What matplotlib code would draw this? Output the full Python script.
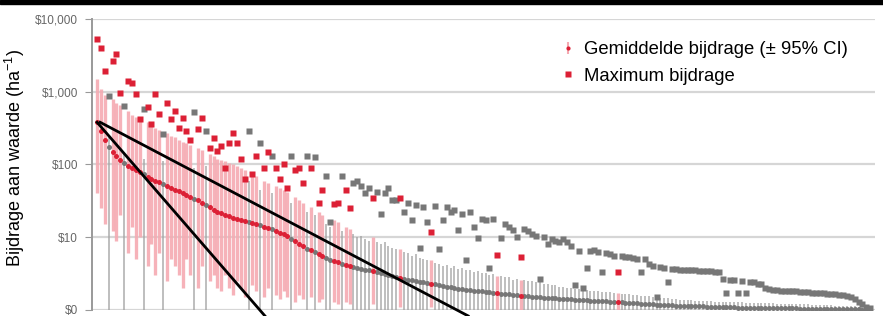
import matplotlib.pyplot as plt
from matplotlib.lines import Line2D
from matplotlib.ticker import FixedLocator, NullLocator

plt.rcParams["font.family"] = ["Liberation Sans", "DejaVu Sans"]
plt.rcParams["mathtext.default"] = "regular"

# species sorted by mean contribution ($ per ha)
mean_vals = [
    380, 290, 220, 175, 150, 130, 115, 104, 96, 89,
    83, 78, 73, 68, 64, 60, 57, 54, 51, 48,
    45, 43, 41, 38, 36, 34, 32, 30, 28, 26,
    24, 22.5, 21.5, 20.5, 19.5, 18.5, 18, 17, 16.5, 16,
    15.5, 15, 14.5, 14, 13.5, 13, 12, 11.5, 11, 10.5,
    9.5, 8.8, 8.2, 7.6, 7.0, 6.6, 6.2, 5.8, 5.5, 5.2,
    4.9, 4.7, 4.5, 4.3, 4.1, 4.0, 3.9, 3.8, 3.7, 3.6,
    3.5, 3.4, 3.3, 3.2, 3.1, 3.0, 2.9, 2.8, 2.75, 2.7,
    2.6, 2.55, 2.5, 2.45, 2.4, 2.35, 2.3, 2.25, 2.2, 2.15,
    2.1, 2.05, 2.0, 1.97, 1.94, 1.91, 1.88, 1.85, 1.82, 1.8,
    1.78, 1.75, 1.72, 1.7, 1.68, 1.66, 1.64, 1.62, 1.6, 1.58,
    1.56, 1.54, 1.52, 1.5, 1.49, 1.48, 1.46, 1.45, 1.44, 1.43,
    1.42, 1.41, 1.4, 1.39, 1.38, 1.37, 1.36, 1.35, 1.34, 1.33,
    1.32, 1.31, 1.3, 1.29, 1.28, 1.27, 1.26, 1.25, 1.24, 1.23,
    1.22, 1.21, 1.2, 1.19, 1.18, 1.17, 1.17, 1.16, 1.16, 1.15,
    1.15, 1.14, 1.14, 1.13, 1.13, 1.12, 1.12, 1.11, 1.11, 1.1,
    1.1, 1.1, 1.09, 1.09, 1.09, 1.08, 1.08, 1.08, 1.07, 1.07,
    1.07, 1.07, 1.06, 1.06, 1.06, 1.06, 1.05, 1.05, 1.05, 1.05,
    1.05, 1.04, 1.04, 1.04, 1.04, 1.04, 1.03, 1.03, 1.03, 1.03,
    1.03, 1.03, 1.02, 1.02, 1.02, 1.02, 1.02, 1.01, 1.01, 1.01,
]

upper_ci = [
    1500, 1100, 900, 250, 800, 700, 650, 150, 550, 480,
    450, 400, 120, 380, 340, 320, 300, 110, 270, 250,
    240, 220, 205, 195, 185, 90, 170, 160, 95, 140,
    130, 120, 115, 110, 105, 100, 95, 90, 85, 60,
    75, 70, 45, 60, 55, 40, 50, 48, 45, 42,
    30, 36, 33, 30, 22, 26, 20, 22, 20, 15,
    14, 17, 16, 12, 14, 13, 11, 10, 10.5, 9.5,
    9, 10, 8.5, 8, 8.6, 7.5, 7.2, 6.8, 7, 6.2,
    6, 5.6, 5.8, 5.2, 5.0, 4.8, 4.9, 4.4, 4.3, 4.0,
    4.2, 3.8, 4.0, 3.7, 3.8, 3.5, 3.6, 3.3, 3.4, 3.2,
    3.2, 3.0, 3.1, 2.9, 2.9, 2.8, 2.8, 2.6, 2.7, 2.6,
    2.6, 2.5, 2.5, 2.4, 2.4, 2.3, 2.3, 2.2, 2.2, 2.1,
    2.1, 2.0, 2.0, 1.95, 1.95, 1.9, 1.9, 1.85, 1.82, 1.8,
    1.78, 1.76, 1.74, 1.72, 1.7, 1.68, 1.66, 1.64, 1.62, 1.6,
    1.58, 1.56, 1.54, 1.52, 1.5, 1.48, 1.46, 1.44, 1.42, 1.4,
    1.39, 1.38, 1.37, 1.36, 1.35, 1.34, 1.33, 1.32, 1.31, 1.3,
    1.3, 1.29, 1.29, 1.28, 1.28, 1.27, 1.27, 1.26, 1.26, 1.25,
    1.25, 1.24, 1.24, 1.23, 1.23, 1.22, 1.22, 1.21, 1.21, 1.2,
    1.2, 1.2, 1.19, 1.19, 1.18, 1.18, 1.17, 1.17, 1.16, 1.16,
    1.15, 1.15, 1.14, 1.14, 1.13, 1.12, 1.11, 1.1, 1.08, 1.06,
]

lower_ci = [
    40, 25, 15, 0.1, 12, 9, 20, 0.1, 6, 14,
    5, 10, 0.1, 4, 8, 3, 6, 0.1, 2.5, 5,
    4, 3, 2, 5, 3, 0.1, 2, 4, 0.1, 2.5,
    3, 2, 1.8, 3, 2, 1.6, 2.5, 2, 1.5, 0.1,
    2.2, 1.8, 0.1, 1.5, 2, 0.1, 1.6, 1.4, 1.8, 1.5,
    0.1, 1.3, 1.6, 1.4, 0.1, 1.5, 0.1, 1.3, 1.4, 0.1,
    0.1, 1.3, 1.2, 0.1, 1.3, 1.2, 0.1, 0.1, 0.1, 0.1,
    0.1, 1.2, 0.1, 0.1, 0.1, 0.1, 0.1, 0.1, 1.1, 0.1,
    0.1, 0.1, 0.1, 0.1, 0.1, 0.1, 1.1, 0.1, 0.1, 0.1,
    0.1, 0.1, 0.1, 0.1, 0.1, 0.1, 0.1, 0.1, 0.1, 0.1,
    0.1, 0.1, 0.1, 0.5, 0.1, 0.1, 0.1, 0.1, 0.1, 0.5,
    0.1, 0.1, 0.1, 0.1, 0.1, 0.1, 0.1, 0.1, 0.1, 0.1,
    0.1, 0.1, 0.1, 0.1, 0.1, 0.1, 0.1, 0.1, 0.1, 0.1,
    0.1, 0.1, 0.1, 0.1, 0.5, 0.1, 0.1, 0.1, 0.1, 0.1,
    0.1, 0.1, 0.1, 0.1, 0.1, 0.1, 0.1, 0.1, 0.1, 0.1,
    0.1, 0.1, 0.1, 0.1, 0.1, 0.1, 0.1, 0.1, 0.1, 0.1,
    0.1, 0.1, 0.1, 0.1, 0.1, 0.1, 0.1, 0.1, 0.1, 0.1,
    0.1, 0.1, 0.1, 0.1, 0.1, 0.1, 0.1, 0.1, 0.1, 0.1,
    0.1, 0.1, 0.1, 0.1, 0.1, 0.1, 0.1, 0.1, 0.1, 0.1,
    0.1, 0.1, 0.1, 0.1, 0.1, 0.1, 0.1, 0.1, 0.1, 0.1,
]

max_vals = [
    5300, 4000, 1950, 880, 2650, 3300, 950, 640, 1420, 1330,
    940, 425, 580, 620, 365, 940, 500, 265, 700, 425,
    550, 320, 440, 290, 215, 520, 310, 440, 290, 170,
    230, 155, 180, 90, 200, 270, 200, 120, 64, 290,
    75, 130, 195, 90, 150, 130, 90, 64, 100, 47,
    130, 85, 90, 55, 130, 90, 125, 30, 44, 70,
    16, 29, 30, 70, 45, 25, 55, 60, 50, 40,
    48, 35, 42, 21, 40, 48, 33, 32, 35, 22,
    30, 17, 28, 7.1, 26, 16, 11.7, 27, 6.8, 17,
    26, 22, 24, 12.5, 21, 4.8, 22, 14, 9.7, 18,
    17, 3.8, 18, 5.7, 9.7, 15, 14, 12.5, 10, 5.3,
    13, 12, 11, 10.5, 2.7, 10, 8, 9.5, 9, 8.5,
    9.5, 8.5, 7.5, 2.2, 6.5, 2.0, 3.8, 6.5, 6.6, 6.2,
    3.3, 6.0, 5.8, 5.6, 3.3, 5.5, 5.4, 5.3, 5.2, 5.0,
    3.3, 5.0, 4.3, 4.0, 1.5, 3.9, 3.8, 2.4, 3.7, 3.7,
    3.6, 3.6, 3.5, 3.5, 3.5, 3.4, 3.4, 3.4, 3.4, 3.3,
    3.3, 2.7, 1.7, 2.6, 2.6, 1.7, 2.5, 1.7, 2.4, 2.4,
    2.3, 2.3, 2.0, 1.95, 1.9, 1.9, 1.85, 1.85, 1.8, 1.8,
    1.8, 1.75, 1.75, 1.75, 1.7, 1.7, 1.7, 1.7, 1.65, 1.65,
    1.65, 1.6, 1.6, 1.55, 1.5, 1.4, 1.3, 1.2, 1.1, 1.05,
]

# r = red species, g = grey species
groups = list(
    "rrrgrrrgrr" "rrgrrrrgrr" "rrrrrgrrgr" "rrrrrrrrrg" "rrgrrgrrrr"
    "grrrgrgrrg" "grrgrrgggg" "grggggggrg" "ggggggrggg" "gggggggggg"
    "gggrgggggr" "gggggggggg" "gggggggggg" "ggggrggggg" "gggggggggg"
    "gggggggggg" "gggggggggg" "gggggggggg" "gggggggggg" "gggggggggg"
)

# two reference lines (rank, $ per ha)
steep_x = [0, 43.2]
steep_y = [380, 0.83]
shallow_x = [0.8, 95.5]
shallow_y = [380, 0.83]

yticks = [1, 10, 100, 1000, 10000]
ytick_labels = ["$0", "$10", "$100", "$1,000", "$10,000"]

red_bar = "#f5aab2"
red_dot = "#dc2035"
grey_bar = "#a3a3a3"
grey_dot = "#777777"

fig = plt.figure(figsize=(8.83, 3.16), dpi=100)
ax = fig.add_axes([0.1042, 0.019, 0.887, 0.921])
ax.set_yscale("log")

ranks = list(range(len(mean_vals)))
for g, bar_col, lw, z in [("g", grey_bar, 1.1, 2), ("r", red_bar, 2.4, 3)]:
    idx = [i for i in ranks if groups[i] == g]
    ax.vlines(idx, [lower_ci[i] for i in idx], [upper_ci[i] for i in idx],
              colors=bar_col, linewidth=lw, alpha=0.9, zorder=z)

for g, dot_col, z in [("g", grey_dot, 4), ("r", red_dot, 5)]:
    idx = [i for i in ranks if groups[i] == g]
    ax.plot(idx, [mean_vals[i] for i in idx], "o", color=dot_col, ms=3.6,
            mec="none", zorder=z)
    ax.plot(idx, [max_vals[i] for i in idx], "s", color=dot_col, ms=4.6,
            mec="none", zorder=z + 2)

ax.plot(steep_x, steep_y, color="black", lw=2.0, zorder=8, clip_on=False)
ax.plot(shallow_x, shallow_y, color="black", lw=2.0, zorder=8, clip_on=False)

ax.set_xlim(-1.3, 200.3)
ax.set_ylim(1, 10000)
ax.yaxis.set_major_locator(FixedLocator(yticks))
ax.yaxis.set_minor_locator(NullLocator())
ax.set_yticklabels(ytick_labels, fontsize=8.5, color="#666666")
ax.tick_params(axis="y", length=5, color="#999999", pad=5)
ax.set_xticks([])
ax.grid(axis="y", color="#d6d6d6", lw=1.6)
ax.set_axisbelow(True)
for side in ["top", "right", "bottom"]:
    ax.spines[side].set_visible(False)
ax.spines["left"].set_color("#999999")
ax.spines["left"].set_linewidth(1.4)

fig.text(0.017, 0.5, "Bijdrage aan waarde (ha$^{-1}$)", rotation=90,
         ha="center", va="center", fontsize=13)

mean_handle = (Line2D([], [], marker="|", color=red_bar, ms=9, mew=1.5, ls="None"),
               Line2D([], [], marker="o", color=red_dot, ms=3, mec="none", ls="None"))
max_handle = Line2D([], [], marker="s", color=red_dot, ms=4.5, mec="none", ls="None")
ax.legend([mean_handle, max_handle],
          ["Gemiddelde bijdrage (± 95% CI)", "Maximum bijdrage"],
          loc="upper left", bbox_to_anchor=(0.587, 0.955), frameon=False,
          fontsize=13.3, handlelength=0.8, handletextpad=0.45,
          labelspacing=0.5, borderpad=0)

fig.add_artist(plt.Rectangle((0, 0.987), 1, 0.013, transform=fig.transFigure,
                             color="black"))

fig.savefig("out.png", dpi=100)
